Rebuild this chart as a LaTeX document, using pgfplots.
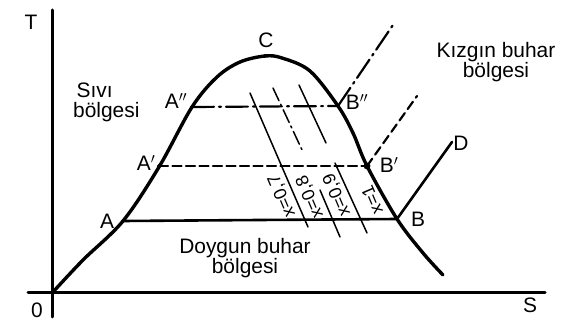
\documentclass[border=0pt]{standalone}
\usepackage{pgfplots}
\pgfplotsset{compat=1.18}
\usepackage{fontspec}
\setmainfont{Liberation Sans}

\begin{document}
\begin{tikzpicture}
\begin{axis}[
  width=568bp, height=322bp, scale only axis,
  xmin=-52, xmax=516, ymin=-29, ymax=293,
  hide axis, clip=false,
  every axis plot/.append style={line cap=round, line join=round},
]
\coordinate (frameSW) at (rel axis cs:0,0);
\coordinate (frameNE) at (rel axis cs:1,1);

% T and S axes
\addplot[line width=3bp] coordinates {(0,-24) (0,283)};
\addplot[line width=3bp] coordinates {(-24,0) (493,0)};

% saturation dome (liquid line O-A-A'-A''-C, vapour line C-B''-B'-B)
\addplot[line width=3.4bp, smooth, tension=0.55] coordinates {
  (1,1) (31,33) (71,72) (107,126) (140,186) (165,216) (188,231)
  (213,237) (230,235) (258,222) (286,187) (301,160) (315,127)
  (345,74) (371,40) (391,18)};

% isobars in the wet region
\addplot[line width=2.6bp] coordinates {(71,72) (345,74)};
\addplot[line width=2.2bp, dash pattern=on 9bp off 4.5bp] coordinates {(107,127) (315,127)};
\addplot[line width=2.2bp, dash pattern=on 22bp off 5bp on 2bp off 5bp] coordinates {(140,186) (286,187)};

% isobars in the superheated region
\addplot[line width=2.6bp] coordinates {(345,74) (400,151)};
\addplot[line width=2.2bp, dash pattern=on 9bp off 5bp] coordinates {(315,127) (365,197)};
\addplot[line width=2.2bp, dash pattern=on 22bp off 5bp on 2bp off 5bp] coordinates {(286,187) (343,271)};

% lines of constant quality
\addplot[line width=1.5bp] coordinates {(198,200) (256,66)};
\addplot[line width=1.5bp, dash pattern=on 14bp off 4bp on 2bp off 4bp] coordinates {(221,205) (251,141)};
\addplot[line width=1.5bp] coordinates {(247,208) (274,150)};
\addplot[line width=1.5bp] coordinates {(268,103) (288,56)};
\addplot[line width=1.5bp] coordinates {(283,130) (315,60)};

% state points
\addplot[only marks, mark=*, mark size=1.8bp] coordinates {
  (71,72) (107,127) (140,186) (286,187) (345,74) (213,237)};
\addplot[only marks, mark=*, mark size=3.2bp] coordinates {(315,127)};

% labels
\begin{scope}[every node/.style={font=\fontsize{21}{20}\selectfont, inner sep=0pt}]
\node at (axis cs:-21,271) {T};
\node at (axis cs:-15,-17) {0};
\node at (axis cs:478,-12) {S};
\node at (axis cs:214,253) {C};
\node at (axis cs:124,192) {A$''$};
\node at (axis cs:94,130) {A$'$};
\node at (axis cs:55,72) {A};
\node at (axis cs:305,191) {B$''$};
\node at (axis cs:337,128) {B$'$};
\node at (axis cs:366,74) {B};
\node at (axis cs:409,150) {D};
\node[align=left, anchor=west] at (axis cs:21,191) {\,Sıvı\\bölgesi};
\node[align=center] at (axis cs:444,231) {Kızgın buhar\\bölgesi};
\node[align=center] at (axis cs:193,35) {Doygun buhar\\bölgesi};
\end{scope}
\begin{scope}[every node/.style={font=\fontsize{18}{18}\selectfont, inner sep=0pt, rotate=113}]
\node at (axis cs:230,97) {x=0,7};
\node at (axis cs:258,96) {x=0,8};
\node at (axis cs:285,98) {x=0,9};
\node at (axis cs:320,93) {x=1};
\end{scope}
\end{axis}
\pgfresetboundingbox
\useasboundingbox (frameSW) rectangle (frameNE);
\end{tikzpicture}
\end{document}
